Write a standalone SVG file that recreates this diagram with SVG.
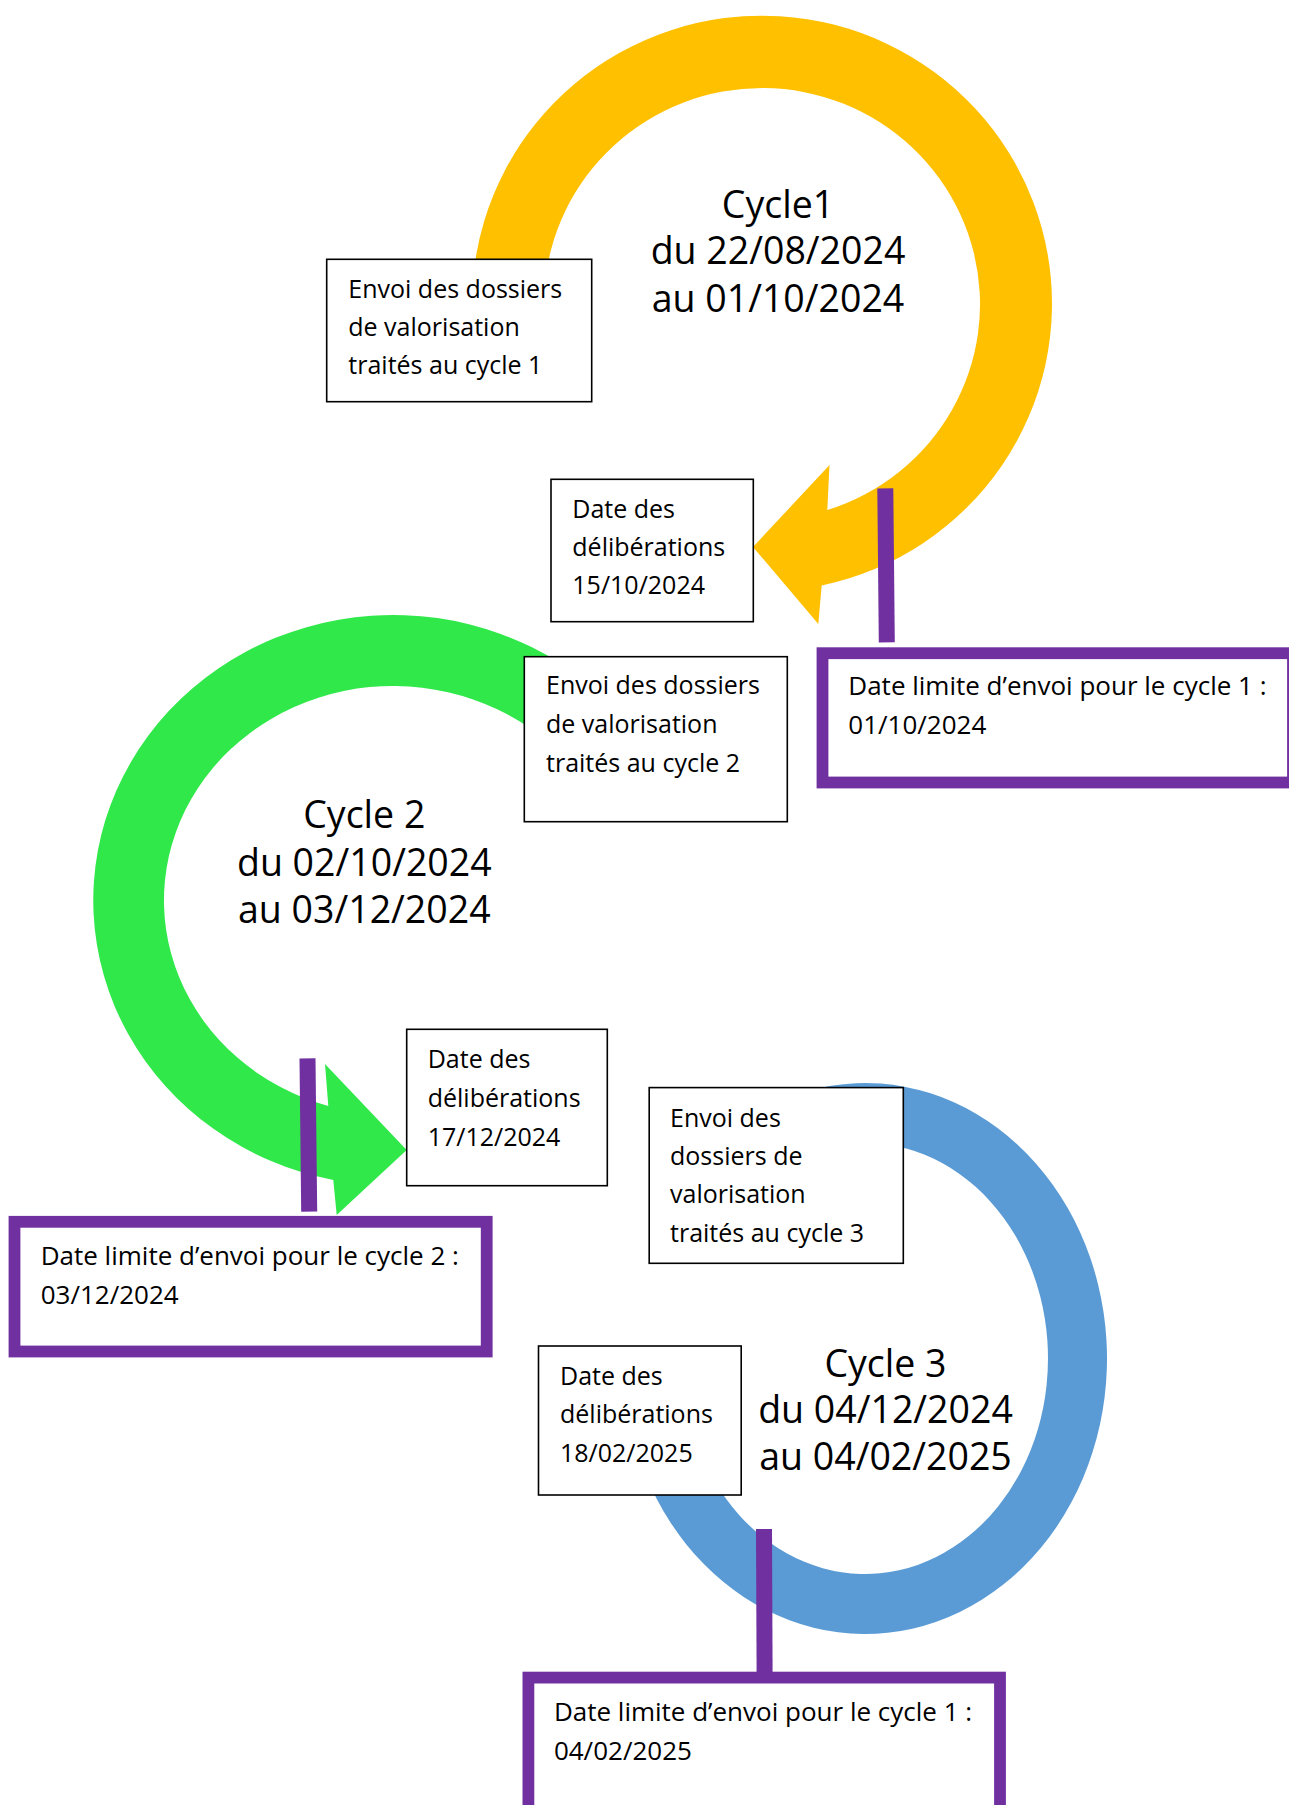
<svg xmlns="http://www.w3.org/2000/svg" width="1289" height="1805" viewBox="0 0 1289 1805">
<style>
  .bg{fill:#ffffff}
  .box{fill:#ffffff;stroke:#000000;stroke-width:1.6}
  .pbox{fill:#ffffff;stroke:#7030A0;stroke-width:11.8}
  .plink{fill:none;stroke:#7030A0;stroke-width:16}
  .t{font-family:"Open Sans","Liberation Sans",sans-serif;font-size:25px;fill:#000000}
  .p{font-size:26px}
  .ttl{font-size:37.5px;text-anchor:middle}
  .yellow{fill:#FFC000}
  .green{fill:#31E84B}
  .blue{fill:#5B9BD5}
</style>
<rect class="bg" x="0" y="0" width="1289" height="1805"/>

<g id="cycle1">
  <path class="yellow" d="M 473.2 330 A 290 288 0 1 1 821.7 585.5 L 818.3 624 L 753 547 L 829.5 465 L 827.3 510.1 A 218 216 0 1 0 545.6 330 Z"/>
  <text class="t ttl" x="778" y="217.7">Cycle1</text>
  <text class="t ttl" x="778" y="264.3">du 22/08/2024</text>
  <text class="t ttl" x="778" y="311.7">au 01/10/2024</text>
</g>

<g id="cycle2">
  <path class="green" d="M 560 663.1 A 300 285.4 0 1 0 333.3 1180 L 336.7 1215 L 406.7 1150 L 325 1064 L 328.3 1106 A 229.3 214.4 0 1 1 560 753.2 Z"/>
  <text class="t ttl" x="364.3" y="828.3">Cycle 2</text>
  <text class="t ttl" x="364.3" y="875.7">du 02/10/2024</text>
  <text class="t ttl" x="364.3" y="922.7">au 03/12/2024</text>
</g>

<g id="cycle3">
  <path class="blue" d="M 760 1110.3 A 242 275.5 0 1 1 629.1 1420 L 689.6 1420 A 183 215.5 0 1 0 760 1182 Z"/>
  <text class="t ttl" x="885.5" y="1376.8">Cycle 3</text>
  <text class="t ttl" x="885.5" y="1423.4">du 04/12/2024</text>
  <text class="t ttl" x="885.5" y="1469.5">au 04/02/2025</text>
</g>

<g id="connectors">
  <path class="plink" d="M 885.3 488.3 L 886.8 642.3"/>
  <path class="plink" d="M 307.5 1058.3 L 309.2 1211.7"/>
  <path class="plink" d="M 764 1529 L 764.6 1673"/>
</g>

<g id="envoi-cycle1">
  <rect class="box" x="326.7" y="259.3" width="265" height="142.4"/>
  <text class="t" x="348.3" y="298.3">Envoi des dossiers</text>
  <text class="t" x="348.3" y="336">de valorisation</text>
  <text class="t" x="348.3" y="374.3">traités au cycle 1</text>
</g>

<g id="deliberations-cycle1">
  <rect class="box" x="551" y="479.3" width="202.3" height="142.4"/>
  <text class="t" x="572.3" y="518.3">Date des</text>
  <text class="t" x="572.3" y="556">délibérations</text>
  <text class="t" x="572.3" y="594.3">15/10/2024</text>
</g>

<g id="limite-cycle1">
  <rect class="pbox" x="822.5" y="653.2" width="470.5" height="129.3"/>
  <text class="t p" x="848.3" y="695">Date limite d’envoi pour le cycle 1 :</text>
  <text class="t p" x="848.3" y="734">01/10/2024</text>
</g>

<g id="envoi-cycle2">
  <rect class="box" x="524.3" y="656.7" width="263" height="165"/>
  <text class="t" x="546" y="694.3">Envoi des dossiers</text>
  <text class="t" x="546" y="733.3">de valorisation</text>
  <text class="t" x="546" y="772.3">traités au cycle 2</text>
</g>

<g id="deliberations-cycle2">
  <rect class="box" x="406.7" y="1029.3" width="200.6" height="156.4"/>
  <text class="t" x="427.7" y="1068.3">Date des</text>
  <text class="t" x="427.7" y="1106.7">délibérations</text>
  <text class="t" x="427.7" y="1145.7">17/12/2024</text>
</g>

<g id="limite-cycle2">
  <rect class="pbox" x="14.5" y="1221.8" width="472.2" height="129.7"/>
  <text class="t p" x="40.7" y="1265">Date limite d’envoi pour le cycle 2 :</text>
  <text class="t p" x="40.7" y="1304">03/12/2024</text>
</g>

<g id="envoi-cycle3">
  <rect class="box" x="649.2" y="1087.6" width="254.1" height="175.7"/>
  <text class="t" x="670" y="1126.5">Envoi des</text>
  <text class="t" x="670" y="1164.5">dossiers de</text>
  <text class="t" x="670" y="1202.5">valorisation</text>
  <text class="t" x="670" y="1242">traités au cycle 3</text>
</g>

<g id="deliberations-cycle3">
  <rect class="box" x="538.5" y="1346" width="202.7" height="149"/>
  <text class="t" x="560" y="1385.4">Date des</text>
  <text class="t" x="560" y="1423.4">délibérations</text>
  <text class="t" x="560" y="1462.3">18/02/2025</text>
</g>

<g id="limite-cycle3">
  <rect class="pbox" x="528.4" y="1677.6" width="471.6" height="145"/>
  <text class="t p" x="553.9" y="1721">Date limite d’envoi pour le cycle 1 :</text>
  <text class="t p" x="553.9" y="1759.7">04/02/2025</text>
</g>
</svg>
